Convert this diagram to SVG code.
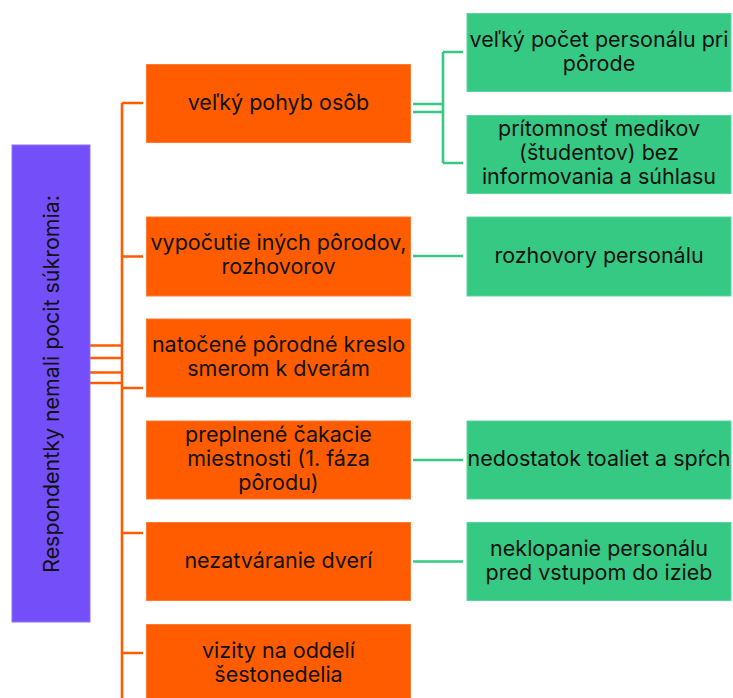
<svg xmlns="http://www.w3.org/2000/svg" width="733" height="698" viewBox="0 0 733 698">
<style>
.o{fill:#FF5C00;stroke:#FF7A33;stroke-width:1}
.g{fill:#35C983;stroke:#5ad69c;stroke-width:1}
.p{fill:#734EF9;stroke:#8f72fa;stroke-width:1}
.t{font-family:Inter,"Noto Sans","Liberation Sans",sans-serif;font-size:21.5px;fill:#111;text-anchor:middle}
.r{font-size:21.4px}
.co{fill:none;stroke:#FF5C00;stroke-width:2.6}
.cg{fill:none;stroke:#35C983;stroke-width:2.6}
</style>
<rect width="733" height="698" fill="#fff"/>
<g id="connectors">
<path class="co" d="M122 103H143M122 103V698M90 345.5H122M90 358H122M90 372.5H122M90 383H122M122 256.5H143M122 388H143M122 533H143M122 653H143"/>
<path class="cg" d="M413 104H443M413 112H443M443 52V163M443 52H463M443 163H463M413 256H463M413 460H463M413 561.5H463"/>
</g>
<g id="root">
<rect class="p" x="12" y="145" width="78" height="477"/>
<text class="t r" transform="translate(58.5 384) rotate(-90)">Respondentky nemali pocit súkromia:</text>
</g>
<g id="o1"><rect class="o" x="146.5" y="64.5" width="264" height="78"/>
<text class="t" x="278.5" y="110">veľký pohyb osôb</text></g>
<g id="o2"><rect class="o" x="146.5" y="217" width="264" height="79"/>
<text class="t" x="278.5" y="250">vypočutie iných pôrodov,</text>
<text class="t" x="278.5" y="274">rozhovorov</text></g>
<g id="o3"><rect class="o" x="146.5" y="319" width="264" height="78"/>
<text class="t" x="278.5" y="352">natočené pôrodné kreslo</text>
<text class="t" x="278.5" y="376">smerom k dverám</text></g>
<g id="o4"><rect class="o" x="146.5" y="421" width="264" height="78"/>
<text class="t" x="278.5" y="442">preplnené čakacie</text>
<text class="t" x="278.5" y="466">miestnosti (1. fáza</text>
<text class="t" x="278.5" y="490">pôrodu)</text></g>
<g id="o5"><rect class="o" x="146.5" y="522.5" width="264" height="78"/>
<text class="t" x="278.5" y="568">nezatváranie dverí</text></g>
<g id="o6"><rect class="o" x="146.5" y="624.5" width="264" height="78"/>
<text class="t" x="278.5" y="658">vizity na oddelí</text>
<text class="t" x="278.5" y="682">šestonedelia</text></g>
<g id="g1"><rect class="g" x="467" y="13.5" width="264" height="78"/>
<text class="t" x="599" y="47">veľký počet personálu pri</text>
<text class="t" x="599" y="71">pôrode</text></g>
<g id="g2"><rect class="g" x="467" y="115.5" width="264" height="78"/>
<text class="t" x="599" y="136">prítomnosť medikov</text>
<text class="t" x="599" y="160">(študentov) bez</text>
<text class="t" x="599" y="184">informovania a súhlasu</text></g>
<g id="g3"><rect class="g" x="467" y="217" width="264" height="79"/>
<text class="t" x="599" y="263">rozhovory personálu</text></g>
<g id="g4"><rect class="g" x="467" y="421" width="264" height="78"/>
<text class="t" x="599" y="466">nedostatok toaliet a spŕch</text></g>
<g id="g5"><rect class="g" x="467" y="522.5" width="264" height="78"/>
<text class="t" x="599" y="556">neklopanie personálu</text>
<text class="t" x="599" y="580">pred vstupom do izieb</text></g>
</svg>
